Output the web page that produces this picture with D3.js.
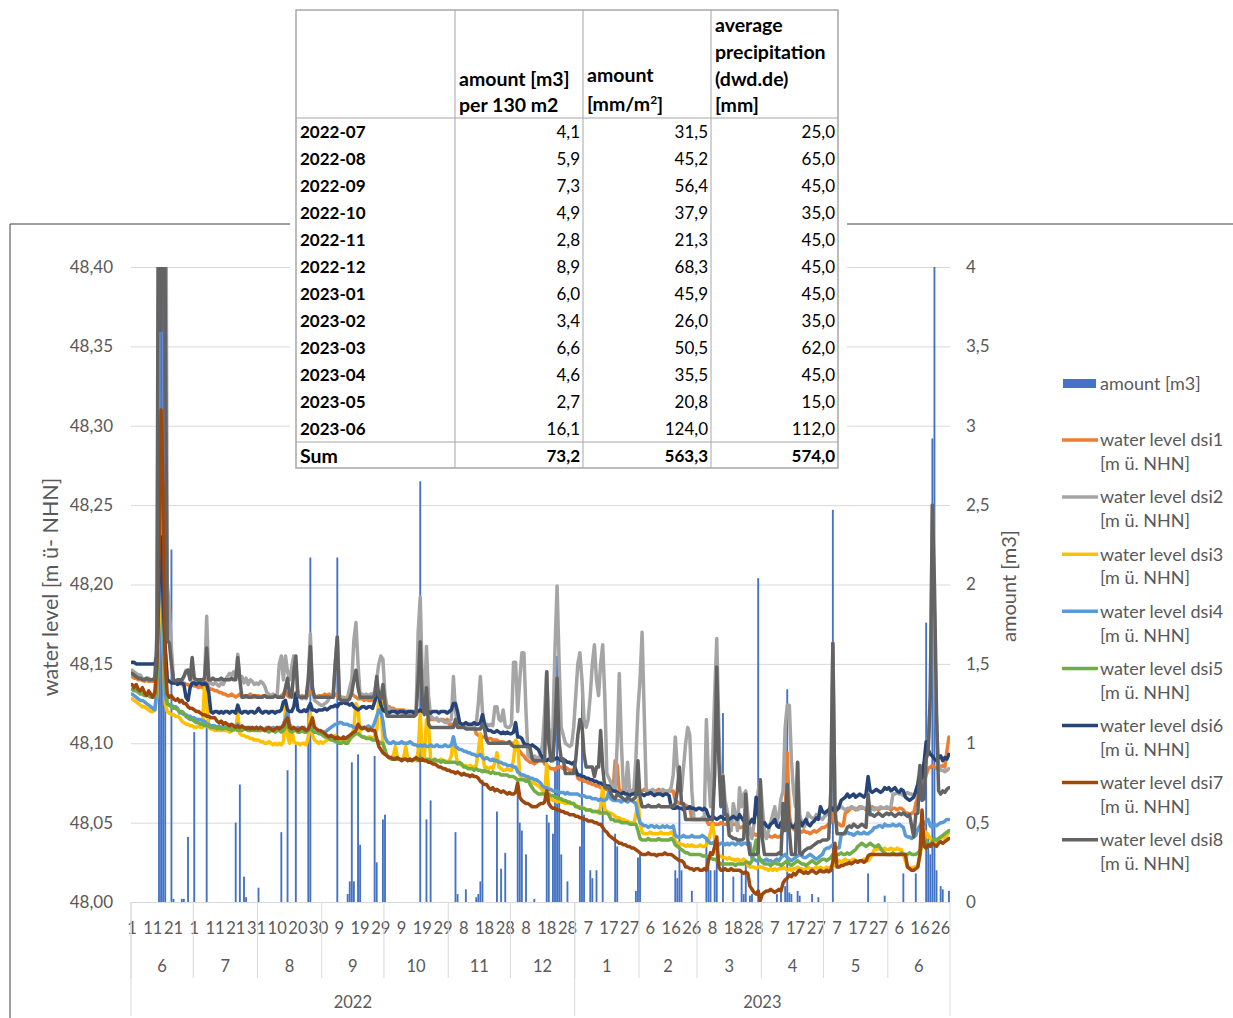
<!DOCTYPE html>
<html>
<head>
<meta charset="utf-8">
<script src="https://cdn.jsdelivr.net/npm/d3@7"></script>
<style>
  body { margin: 0; background: #fff; }
  svg { display: block; }
  text { font-family: Lato, "Open Sans", sans-serif; }
</style>
</head>
<body>
<svg id="chart" width="1233" height="1018"></svg>
<script>
// Daily categories run from the first to the last logged day
const firstDay = "2022-06-01";
const lastDay = "2023-06-30";

// Water levels per sensor, in mm above 48,000 m ü. NHN, one value per day
const dsi1 = [
  142,141,141,140,140,140,139,140,139,139,139,140,150,220,260,200,160,140,139,139,138,139,138,138,137,138,137,137,136,137,
  136,136,135,136,135,137,140,135,134,134,133,133,132,132,131,131,130,130,131,130,129,130,131,130,130,129,130,131,130,129,130,
  130,129,130,130,129,130,130,129,130,130,129,130,131,133,130,129,130,130,132,130,129,130,129,130,130,133,131,130,129,130,130,
  130,131,130,131,130,129,131,130,129,128,129,128,129,130,131,130,129,128,128,128,127,128,127,127,127,127,128,129,128,126,
  124,123,123,122,122,121,121,121,121,121,120,120,120,120,120,120,120,119,120,120,120,116,115,115,115,115,114,115,115,114,115,
  112,112,112,112,111,112,112,111,112,112,111,112,111,106,105,105,104,104,103,103,103,102,102,102,101,101,101,100,100,100,
  100,100,98,96,95,93,92,90,89,88,88,87,88,89,90,90,87,86,85,84,84,83,85,85,85,84,85,84,83,83,83,
  83,78,77,77,76,76,75,75,74,74,73,73,72,72,71,71,70,70,70,89,86,70,70,70,69,70,70,70,71,70,70,
  70,70,71,70,70,69,70,70,70,71,70,70,69,70,70,70,70,64,63,62,62,61,61,60,60,52,52,52,
  52,52,52,52,52,49,49,50,49,49,49,50,49,49,49,50,49,49,49,49,47,47,48,47,47,46,43,43,42,43,42,
  42,42,41,42,41,41,42,41,41,42,45,55,94,55,47,46,45,46,45,44,45,44,44,43,44,45,44,45,46,47,
  47,48,49,50,60,51,50,49,48,48,56,57,58,60,59,58,59,60,59,59,58,59,59,60,59,59,58,59,59,59,59,
  59,58,59,59,58,59,59,58,56,56,55,56,56,62,66,70,72,75,80,84,85,86,85,84,86,85,86,85,95,104
];
const dsi2 = [
  146,145,144,143,143,141,140,140,141,140,140,141,170,450,600,450,600,200,185,160,140,139,138,138,139,142,146,146,140,150,
  139,139,140,139,138,139,180,139,138,137,138,137,136,138,137,140,142,144,143,145,141,156,140,142,138,141,137,140,139,137,138,
  137,139,138,136,132,131,130,131,130,130,150,155,140,155,145,140,148,155,150,130,129,128,129,128,140,169,135,127,126,125,124,
  124,125,126,128,130,131,150,167,130,129,128,128,129,135,140,165,176,150,130,131,130,131,130,131,131,132,140,150,155,153,
  130,123,122,121,121,120,119,120,119,118,118,119,118,117,118,120,170,192,140,125,161,130,117,116,115,116,114,115,114,113,113,
  114,115,142,120,112,112,111,112,111,110,111,110,111,112,125,142,120,112,112,111,112,111,123,123,115,114,121,111,110,110,
  112,151,151,120,140,157,157,120,92,91,91,92,91,91,92,100,120,145,110,95,110,160,199,150,110,105,100,99,98,99,110,
  130,150,157,140,115,110,115,130,150,162,140,130,150,162,130,81,78,75,72,70,100,144,100,71,70,88,70,69,70,90,121,
  140,170,120,70,69,70,71,70,68,69,70,71,70,69,70,72,80,104,85,75,70,85,100,110,105,70,53,52,
  52,52,53,52,115,80,60,90,130,166,110,72,80,64,58,50,45,62,55,45,72,60,68,70,55,45,40,50,60,70,77,
  60,45,40,45,50,55,60,50,55,65,70,110,124,124,90,70,60,88,55,50,47,50,56,54,53,52,55,54,53,52,
  54,55,56,58,163,62,59,59,60,59,58,59,59,60,59,59,58,59,60,59,59,59,60,59,58,59,59,60,59,59,60,
  59,60,68,68,69,68,68,67,68,69,68,68,67,68,75,86,78,70,90,100,130,250,180,110,85,83,83,82,83,84
];
const dsi3 = [
  128,127,126,125,124,123,123,122,121,120,120,121,130,180,210,160,125,120,119,118,118,117,117,116,114,113,112,112,111,111,
  110,110,111,110,110,138,125,110,109,109,108,109,108,108,109,108,108,107,108,108,109,119,106,105,105,104,104,103,103,102,102,
  102,101,101,100,100,101,100,99,100,99,100,99,101,123,105,100,110,101,100,100,99,100,100,99,104,119,105,102,101,100,101,
  100,101,102,103,104,104,105,103,102,101,102,101,101,102,104,110,125,122,105,104,104,103,104,104,103,104,108,129,127,100,
  94,92,91,91,92,98,91,90,90,91,98,90,90,89,90,89,95,119,92,91,115,112,90,89,89,89,89,90,89,89,88,
  89,92,104,95,87,87,86,86,86,85,86,85,85,86,95,106,94,85,85,84,85,84,88,94,85,84,83,83,84,83,
  83,90,102,100,80,78,77,77,76,76,75,75,74,73,72,70,68,87,68,65,64,64,63,64,63,63,62,63,62,62,62,
  61,60,60,59,59,58,58,58,57,57,57,56,60,73,58,57,56,56,55,54,53,53,52,52,51,51,50,50,49,55,64,
  50,44,43,43,43,44,43,43,43,43,44,43,43,43,43,44,43,38,37,37,36,36,35,36,35,36,35,35,
  35,36,35,35,36,38,44,49,40,30,29,29,28,28,27,28,27,27,26,27,26,26,27,26,23,22,22,22,21,22,22,
  22,21,21,20,21,20,21,20,21,21,22,21,20,21,20,21,21,22,21,21,20,21,22,21,21,21,22,21,22,21,
  21,22,21,22,22,24,26,26,25,26,27,26,26,26,27,26,25,26,26,27,26,26,28,30,33,33,34,33,33,34,33,
  33,34,33,33,34,33,33,30,26,22,22,21,22,22,23,30,35,38,44,42,40,38,37,38,39,40,41,40,42,44
];
const dsi4 = [
  131,130,129,128,127,127,126,125,124,123,122,121,135,200,230,170,130,125,124,124,123,123,122,119,119,118,118,117,117,116,
  116,115,115,115,114,114,112,112,111,111,111,110,111,110,110,110,111,110,110,110,111,112,110,110,109,110,109,110,109,109,110,
  109,110,109,109,110,109,109,110,109,109,110,109,112,115,120,112,110,109,109,110,109,109,110,108,108,112,108,107,107,107,106,
  107,107,108,109,110,111,112,112,113,113,112,112,112,111,111,110,110,111,110,110,110,110,111,110,110,113,117,121,120,114,
  104,101,100,100,101,100,100,100,101,100,100,100,101,100,99,99,98,99,98,99,98,98,99,98,98,99,98,98,98,99,98,
  98,99,104,98,97,96,96,95,95,94,94,93,93,92,92,93,91,90,91,90,89,90,89,89,88,88,87,87,86,86,
  86,85,85,82,81,80,80,79,79,78,78,77,77,76,75,73,72,72,71,71,70,70,70,69,69,69,68,69,68,68,68,
  68,68,67,67,67,66,66,66,65,65,65,64,65,64,64,65,70,65,64,64,64,64,63,64,64,63,64,64,63,62,55,
  50,49,48,48,47,48,48,47,48,47,47,48,47,48,47,47,48,42,41,41,41,42,41,41,41,42,41,41,
  41,41,42,41,40,38,37,37,38,37,36,37,37,36,37,36,37,37,36,37,37,36,37,37,36,37,28,27,26,26,27,
  26,26,27,26,26,25,26,27,26,28,29,30,28,27,26,27,28,29,30,29,28,28,29,30,29,28,27,28,29,30,
  33,34,34,35,36,34,34,34,42,43,43,44,43,43,42,43,44,43,43,44,43,43,44,45,47,47,48,48,47,49,48,
  48,48,49,48,48,49,48,47,42,41,41,40,41,42,46,48,50,49,51,52,48,47,49,48,49,50,50,51,52,52
];
const dsi5 = [
  134,133,133,132,131,131,130,131,130,129,129,130,140,230,300,200,140,125,124,123,122,122,121,120,120,119,117,116,115,115,
  114,113,113,112,112,111,111,111,110,110,110,109,110,109,109,110,109,109,108,109,109,108,109,108,109,109,108,108,109,108,108,
  108,108,109,108,108,107,108,108,107,108,108,107,108,110,112,108,107,108,108,107,107,108,107,107,108,110,108,107,107,106,106,
  105,104,104,103,102,102,101,101,100,100,101,100,100,103,104,105,106,106,105,104,104,103,103,103,102,102,102,101,100,100,
  96,92,91,90,90,91,90,90,89,90,90,89,90,89,90,90,89,91,90,89,90,90,89,89,90,89,89,88,89,88,88,
  88,88,88,88,87,88,87,85,85,84,84,84,83,84,83,83,82,83,82,82,81,82,81,81,81,80,80,80,80,79,
  79,79,78,77,77,77,77,76,77,74,72,70,69,68,68,68,68,68,68,67,67,66,66,65,65,64,64,63,63,62,62,
  60,60,59,59,59,58,58,58,57,57,57,57,56,56,56,56,55,52,52,51,51,51,50,50,50,50,49,49,49,49,45,
  40,39,39,39,40,39,39,39,39,40,39,39,39,39,39,40,39,36,35,34,33,32,31,31,30,30,30,30,
  30,30,29,29,29,28,28,27,27,26,25,24,24,24,24,24,24,24,23,24,24,24,24,25,25,24,26,33,39,30,26,
  25,24,24,24,23,24,25,24,24,23,24,25,26,24,23,24,25,26,25,24,24,23,24,25,26,25,24,25,26,27,
  27,26,27,28,30,29,30,30,31,30,30,31,30,31,32,33,35,36,37,36,35,36,37,36,35,35,36,34,32,31,30,
  30,30,31,30,30,30,31,30,30,30,31,30,30,30,31,32,36,37,38,37,36,38,40,39,40,41,42,43,44,45
];
const dsi6 = [
  151,151,150,150,150,150,150,150,150,150,150,150,155,200,230,190,160,140,139,138,138,138,137,138,138,137,129,127,135,138,
  138,137,138,138,137,138,137,132,120,119,120,120,119,120,119,120,120,119,120,120,119,124,120,119,120,120,119,120,120,119,120,
  122,120,119,120,120,119,120,120,119,120,120,121,126,127,121,120,120,123,131,121,120,120,121,120,122,125,121,121,120,121,121,
  121,122,121,122,123,123,124,123,125,125,126,125,125,124,125,123,122,121,122,123,123,122,123,123,122,126,131,130,124,121,
  120,120,119,120,120,120,119,120,120,120,119,120,120,120,119,120,120,121,120,125,120,120,119,120,120,120,119,120,120,120,119,
  120,121,125,125,120,113,112,112,113,112,112,112,113,112,112,113,118,112,109,108,108,107,107,108,107,106,107,106,107,106,
  106,107,113,104,104,103,100,99,99,98,99,98,97,96,93,91,90,89,90,89,90,90,91,90,89,90,89,88,88,87,88,
  83,80,80,79,79,78,78,77,77,76,76,75,75,74,74,73,73,71,70,70,69,68,68,69,68,68,67,68,68,69,68,
  68,68,67,68,68,69,68,67,68,68,68,67,68,68,67,60,59,59,60,59,59,58,59,59,60,59,59,58,
  59,59,58,59,58,54,53,54,53,52,53,54,53,52,53,52,53,54,53,52,55,53,51,50,49,50,52,50,66,55,50,
  49,50,48,47,49,50,52,48,47,50,51,49,53,50,48,47,49,50,51,48,50,52,49,48,50,51,53,52,60,57,
  56,57,58,60,58,59,58,60,64,65,66,68,66,67,68,66,67,68,67,66,68,79,70,69,70,71,70,69,70,72,71,
  72,70,71,72,70,69,71,70,66,65,64,65,66,70,74,81,78,88,101,96,93,92,90,89,91,92,89,91,90,93
];
const dsi7 = [
  137,135,137,134,133,135,132,130,133,131,129,132,150,220,310,260,150,131,129,130,128,127,128,126,127,125,125,123,122,122,
  121,120,120,119,118,118,117,117,116,116,116,114,113,114,112,113,112,111,112,111,110,111,110,111,110,109,110,109,110,109,110,
  109,110,109,108,109,110,109,108,109,110,109,110,111,114,116,110,109,110,109,108,109,110,109,108,109,112,116,110,109,108,108,
  107,106,105,104,105,104,103,104,103,103,104,103,104,105,106,107,108,112,110,109,110,109,108,109,108,108,103,98,96,94,
  93,92,91,91,90,90,91,90,89,90,90,89,90,89,90,91,90,89,90,89,89,88,88,87,87,86,85,85,84,84,83,
  83,82,82,81,82,81,80,81,80,80,79,80,79,79,78,76,75,74,74,72,71,72,70,71,70,69,70,69,68,69,
  68,68,69,75,66,64,63,62,62,61,60,60,60,61,62,62,63,70,62,60,59,59,58,58,57,57,56,56,55,55,55,
  54,54,53,53,52,52,51,51,51,50,50,49,49,47,45,44,42,41,40,39,38,37,37,36,36,35,35,34,34,33,32,
  31,30,30,30,31,30,30,30,29,30,30,30,31,30,30,30,29,28,27,26,26,25,22,22,21,21,20,21,
  21,20,20,21,20,26,31,30,35,41,22,20,20,21,20,20,21,20,20,20,20,19,18,19,18,10,8,6,5,7,1,
  5,6,7,7,8,7,6,7,8,7,12,14,15,17,16,18,17,19,20,19,18,19,18,19,20,19,18,19,20,19,
  19,20,19,20,25,37,22,22,23,23,24,24,25,24,25,26,25,26,26,25,26,29,30,30,30,30,30,30,30,30,30,
  30,30,30,30,30,30,30,30,30,22,21,20,20,21,22,30,58,35,34,36,35,37,36,35,37,38,37,38,39,40
];
const dsi8 = [
  144,143,142,141,141,140,140,141,140,140,140,141,160,600,360,600,380,165,163,150,140,139,140,140,140,142,145,146,140,154,
  141,140,140,140,140,141,160,140,140,141,140,140,140,141,140,140,140,140,141,140,140,154,140,129,129,130,129,129,129,130,129,
  129,129,129,130,129,129,129,129,130,129,129,129,129,135,141,130,129,145,155,130,129,129,129,129,140,161,135,129,129,129,129,
  129,129,129,129,129,129,150,167,128,127,127,127,127,128,132,140,146,135,129,129,129,129,129,129,129,130,142,130,128,137,
  125,117,117,117,117,117,117,117,117,117,117,117,117,117,117,118,140,164,125,118,135,112,110,110,110,110,110,110,110,110,110,
  110,110,110,115,110,110,110,110,109,109,109,109,109,109,109,109,112,109,102,100,100,100,100,100,100,100,100,100,100,101,
  99,98,98,98,98,98,98,98,98,97,90,89,89,89,89,89,89,145,100,89,89,110,141,100,90,90,81,81,81,81,81,
  90,105,115,112,93,85,85,85,85,79,85,85,108,85,72,72,72,68,66,65,68,67,66,65,64,66,65,64,65,66,89,
  66,60,60,60,61,60,60,60,60,61,60,60,60,60,60,61,60,62,70,85,62,62,52,52,52,52,52,52,
  52,52,52,52,52,52,52,52,80,148,90,60,79,55,55,42,41,40,40,39,39,39,40,68,39,30,30,30,30,31,77,
  40,30,30,30,30,30,30,30,31,30,62,45,74,45,30,30,30,88,31,30,32,33,34,34,35,36,37,38,38,39,
  39,39,40,70,163,60,43,43,43,43,44,47,48,47,49,48,47,48,49,48,47,68,55,55,54,55,56,55,54,55,56,
  55,56,55,54,55,56,55,56,55,54,55,48,41,55,56,86,64,65,90,95,130,250,200,120,70,68,70,69,71,72
];

// Collected rain per day in m³ (days without an entry collected nothing)
const rainDays = [
  "2022-06-14","2022-06-15","2022-06-16","2022-06-17","2022-06-20","2022-06-21","2022-06-25","2022-06-26","2022-06-28",
  "2022-07-01","2022-07-07","2022-07-21","2022-07-23","2022-07-25","2022-07-26",
  "2022-08-01","2022-08-12","2022-08-15","2022-08-19","2022-08-25","2022-08-26",
  "2022-09-08","2022-09-13","2022-09-14","2022-09-15","2022-09-16","2022-09-18","2022-09-19","2022-09-26","2022-09-27","2022-09-30",
  "2022-10-01","2022-10-18","2022-10-21","2022-10-23",
  "2022-11-04","2022-11-05","2022-11-09","2022-11-14","2022-11-15","2022-11-16","2022-11-17","2022-11-24","2022-11-26","2022-11-28",
  "2022-12-04","2022-12-05","2022-12-06","2022-12-08","2022-12-12","2022-12-18","2022-12-19","2022-12-21","2022-12-22","2022-12-23","2022-12-24","2022-12-25","2022-12-28",
  "2023-01-03","2023-01-04","2023-01-05","2023-01-08","2023-01-09","2023-01-11","2023-01-14","2023-01-20","2023-01-21","2023-01-30","2023-01-31",
  "2023-02-01","2023-02-18","2023-02-19","2023-02-20","2023-02-21","2023-02-26",
  "2023-03-05","2023-03-06","2023-03-07","2023-03-09","2023-03-10","2023-03-13","2023-03-18","2023-03-22","2023-03-23","2023-03-24","2023-03-26","2023-03-27","2023-03-30","2023-03-31",
  "2023-04-08","2023-04-10","2023-04-12","2023-04-13","2023-04-14","2023-04-15","2023-04-18","2023-04-19","2023-04-25","2023-04-28",
  "2023-05-05","2023-05-22","2023-05-30",
  "2023-06-08","2023-06-14","2023-06-19","2023-06-20","2023-06-21","2023-06-22","2023-06-23","2023-06-24","2023-06-26","2023-06-27","2023-06-30"
];
const rainAmounts = [
  4.0,4.0,4.0,4.0,2.22,0.02,0.02,0.02,0.41,
  1.07,1.1,0.5,0.74,0.16,0.03,
  0.09,0.44,0.83,0.99,1.24,2.17,
  2.17,0.05,0.13,0.88,0.13,0.93,0.36,0.92,0.25,0.52,
  0.55,2.65,0.52,0.64,
  0.44,0.05,0.08,0.03,0.05,0.13,0.77,0.57,0.21,0.31,
  0.69,0.5,0.45,0.3,0.02,0.55,0.5,0.43,0.85,1.55,0.9,0.3,0.13,
  0.35,1.4,0.55,0.2,0.15,0.2,0.75,0.43,0.35,0.07,0.28,
  0.3,0.2,0.15,0.58,0.2,0.07,
  0.41,0.28,0.2,0.2,0.41,1.19,0.16,0.18,0.05,0.25,0.04,0.05,2.04,0.03,
  0.05,0.08,0.1,1.34,0.06,0.05,0.07,0.04,0.05,0.03,
  2.47,0.18,0.04,
  0.18,0.18,1.76,0.4,0.3,2.92,4.0,0.2,0.1,0.08,0.07
];

// Axis ticks
const levelTicks = [48.00, 48.05, 48.10, 48.15, 48.20, 48.25, 48.30, 48.35, 48.40];
const amountTicks = [0, 0.5, 1, 1.5, 2, 2.5, 3, 3.5, 4];

// Monthly summary table
const tableMonths = ["2022-07","2022-08","2022-09","2022-10","2022-11","2022-12","2023-01","2023-02","2023-03","2023-04","2023-05","2023-06"];
const tableAmountM3 = [4.1, 5.9, 7.3, 4.9, 2.8, 8.9, 6.0, 3.4, 6.6, 4.6, 2.7, 16.1];
const tableAmountMm = [31.5, 45.2, 56.4, 37.9, 21.3, 68.3, 45.9, 26.0, 50.5, 35.5, 20.8, 124.0];
const tablePrecip = [25.0, 65.0, 45.0, 35.0, 45.0, 45.0, 45.0, 35.0, 62.0, 45.0, 15.0, 112.0];
const tableSums = [73.2, 563.3, 574.0];

const series = [
  { name: "water level dsi1", values: dsi1, color: "#ED7D31" },
  { name: "water level dsi2", values: dsi2, color: "#A5A5A5" },
  { name: "water level dsi3", values: dsi3, color: "#FFC000" },
  { name: "water level dsi4", values: dsi4, color: "#5B9BD5" },
  { name: "water level dsi5", values: dsi5, color: "#70AD47" },
  { name: "water level dsi6", values: dsi6, color: "#264478" },
  { name: "water level dsi7", values: dsi7, color: "#9E480E" },
  { name: "water level dsi8", values: dsi8, color: "#636363" }
];
const barColor = "#4472C4";
const axisTextColor = "#595959";
const gridColor = "#d9d9d9";

const de = d3.formatLocale({ decimal: ",", thousands: ".", grouping: [3], currency: ["", " €"] });
const fmtLevel = de.format(".2f");
const fmtAmount = de.format("~f");
const fmtTable = de.format(".1f");

const svg = d3.select("#chart");
const plot = { left: 131, right: 950, top: 267, bottom: 902 };

const parseDay = d3.utcParse("%Y-%m-%d");
const fmtDay = d3.utcFormat("%Y-%m-%d");
const days = d3.utcDay.range(parseDay(firstDay), d3.utcDay.offset(parseDay(lastDay), 1)).map(fmtDay);

const x = d3.scaleBand().domain(days).range([plot.left, plot.right]).paddingInner(0.1).paddingOuter(0.05);
const cx = d => x(d) + x.bandwidth() / 2;
const edge = d => x(d) - x.step() * x.paddingInner() / 2;
const yL = d3.scaleLinear().domain([48.0, 48.4]).range([plot.bottom, plot.top]);
const yR = d3.scaleLinear().domain([0, 4]).range([plot.bottom, plot.top]);

// chart area frame
svg.append("path").attr("d", "M10,1018V224H1233").attr("fill", "none").attr("stroke", "#404040").attr("stroke-width", 1);

svg.append("defs").append("clipPath").attr("id", "plotClip")
  .append("rect").attr("x", plot.left).attr("y", plot.top)
  .attr("width", plot.right - plot.left).attr("height", plot.bottom - plot.top);

// horizontal gridlines
svg.append("g").attr("transform", `translate(${plot.left},0)`)
  .call(d3.axisLeft(yL).tickValues(levelTicks).tickFormat("").tickSize(-(plot.right - plot.left)))
  .call(g => g.select(".domain").remove())
  .call(g => g.selectAll("line").attr("stroke", gridColor));

// left axis labels
svg.append("g").attr("transform", `translate(${plot.left},0)`)
  .call(d3.axisLeft(yL).tickValues(levelTicks).tickFormat(fmtLevel).tickSize(0).tickPadding(18))
  .call(g => g.select(".domain").remove())
  .call(g => g.selectAll("text").attr("fill", axisTextColor).attr("font-size", 17).style("font-family", "Lato"));

// right axis labels
svg.append("g").attr("transform", `translate(${plot.right},0)`)
  .call(d3.axisRight(yR).tickValues(amountTicks).tickFormat(fmtAmount).tickSize(0).tickPadding(16))
  .call(g => g.select(".domain").remove())
  .call(g => g.selectAll("text").attr("fill", axisTextColor).attr("font-size", 17).style("font-family", "Lato"));

// day-of-month labels every 10th day
svg.append("g").attr("transform", `translate(0,${plot.bottom})`)
  .call(d3.axisBottom(x).tickValues(days.filter((d, i) => i % 10 === 0)).tickFormat(d => +d.slice(8)).tickSize(0).tickSizeOuter(0).tickPadding(20))
  .call(g => g.select(".domain").attr("stroke", gridColor))
  .call(g => g.selectAll("text").attr("fill", axisTextColor).attr("font-size", 16.5).style("font-family", "Lato"));

// month and year groupings
const months = d3.groups(days, d => d.slice(0, 7)).map(([key, ds]) => ({ key, first: ds[0], last: ds[ds.length - 1] }));
const years = d3.groups(days, d => d.slice(0, 4)).map(([key, ds]) => ({ key, first: ds[0], last: ds[ds.length - 1] }));
const rightEdge = d => edge(d) + x.step();

const sep = svg.append("g").attr("stroke", gridColor);
sep.selectAll("line.m").data(months).join("line").attr("class", "m")
  .attr("x1", d => edge(d.first)).attr("x2", d => edge(d.first))
  .attr("y1", plot.bottom).attr("y2", 978);
sep.selectAll("line.y").data(years).join("line").attr("class", "y")
  .attr("x1", d => edge(d.first)).attr("x2", d => edge(d.first))
  .attr("y1", plot.bottom).attr("y2", 1016);
sep.append("line").attr("x1", plot.right).attr("x2", plot.right).attr("y1", plot.bottom).attr("y2", 1016);

svg.append("g").selectAll("text").data(months).join("text")
  .attr("x", d => (edge(d.first) + rightEdge(d.last)) / 2).attr("y", 966).attr("dy", "0.35em")
  .attr("text-anchor", "middle").attr("font-size", 16.5).attr("fill", axisTextColor)
  .text(d => +d.key.slice(5));
svg.append("g").selectAll("text").data(years).join("text")
  .attr("x", d => (edge(d.first) + rightEdge(d.last)) / 2).attr("y", 1002).attr("dy", "0.35em")
  .attr("text-anchor", "middle").attr("font-size", 16.5).attr("fill", axisTextColor)
  .text(d => d.key);

// axis titles
svg.append("text").attr("transform", "translate(50,587) rotate(-90)").attr("text-anchor", "middle")
  .attr("dy", "0.35em").attr("font-size", 21.5).attr("fill", axisTextColor).text("water level [m ü- NHN]");
svg.append("text").attr("transform", "translate(1009,586) rotate(-90)").attr("text-anchor", "middle")
  .attr("dy", "0.35em").attr("font-size", 20).attr("fill", axisTextColor).text("amount [m3]");

const plotArea = svg.append("g").attr("clip-path", "url(#plotClip)");

// rain bars (secondary axis)
const rain = rainDays.map((d, i) => ({ day: d, value: rainAmounts[i] }));
plotArea.append("g").selectAll("rect").data(rain).join("rect")
  .attr("x", d => x(d.day)).attr("width", x.bandwidth())
  .attr("y", d => yR(d.value)).attr("height", d => yR(0) - yR(d.value))
  .attr("fill", barColor);

// water level lines
const line = d3.line().x((d, i) => cx(days[i])).y(d => yL(48 + d / 1000));
plotArea.append("g").selectAll("path").data(series).join("path")
  .attr("d", d => line(d.values))
  .attr("fill", "none").attr("stroke", d => d.color).attr("stroke-width", 3.5)
  .attr("stroke-linejoin", "round").attr("stroke-linecap", "round");

// legend
const legend = svg.append("g").attr("font-size", 18).attr("fill", axisTextColor);
legend.append("rect").attr("x", 1063).attr("y", 379).attr("width", 33).attr("height", 9).attr("fill", barColor);
legend.append("text").attr("x", 1100).attr("y", 384).attr("dy", "0.35em").text("amount [m3]");
const legendRows = legend.selectAll("g.row").data(series).join("g").attr("class", "row")
  .attr("transform", (d, i) => `translate(0,${440 + i * 57.1})`);
legendRows.append("line").attr("x1", 1062).attr("x2", 1098).attr("stroke", d => d.color).attr("stroke-width", 3.5);
legendRows.append("text").attr("x", 1100).attr("dy", "0.35em").text(d => d.name);
legendRows.append("text").attr("x", 1100).attr("y", 24).attr("dy", "0.35em").text("[m ü. NHN]");

// summary table
const tbl = svg.append("g");
tbl.append("rect").attr("x", 290).attr("y", 0).attr("width", 557).attr("height", 473).attr("fill", "#fff");
const colX = [296, 455, 583, 711, 838];
const tTop = 10, headBottom = 118, rowH = 27, sumTop = headBottom + rowH * tableMonths.length, tBottom = sumTop + 26;
const tableLine = "#a6a6a6";
tbl.append("rect").attr("x", colX[0]).attr("y", tTop).attr("width", colX[4] - colX[0]).attr("height", tBottom - tTop)
  .attr("fill", "none").attr("stroke", tableLine).attr("stroke-width", 1.5);
tbl.selectAll("line.v").data(colX.slice(1, 4)).join("line").attr("class", "v")
  .attr("x1", d => d).attr("x2", d => d).attr("y1", tTop).attr("y2", tBottom).attr("stroke", tableLine);
tbl.selectAll("line.h").data([headBottom, sumTop]).join("line").attr("class", "h")
  .attr("x1", colX[0]).attr("x2", colX[4]).attr("y1", d => d).attr("y2", d => d).attr("stroke", tableLine);

const head = tbl.append("g").attr("font-size", 19.5).attr("font-weight", "bold").attr("fill", "#000");
const headCells = [
  { x: colX[1] + 4, lines: [["amount [m3]", 79], ["per 130 m2", 105]] },
  { x: colX[2] + 4, lines: [["amount", 75]] },
  { x: colX[3] + 4, lines: [["average", 25], ["precipitation", 52], ["(dwd.de)", 79], ["[mm]", 105]] }
];
headCells.forEach(c => c.lines.forEach(([t, y]) => {
  head.append("text").attr("x", c.x).attr("y", y).attr("dy", "0.35em").text(t);
}));
const mmHead = head.append("text").attr("x", colX[2] + 4).attr("y", 104).attr("dy", "0.35em");
mmHead.append("tspan").text("[mm/m");
mmHead.append("tspan").attr("font-size", 12).attr("dy", "-0.6em").text("2");
mmHead.append("tspan").attr("dy", "0.45em").text("]");

const rows = tableMonths.map((m, i) => [m, tableAmountM3[i], tableAmountMm[i], tablePrecip[i]]);
rows.push(["Sum", ...tableSums]);
const body = tbl.append("g").attr("font-size", 17).attr("fill", "#000");
rows.forEach((r, i) => {
  const y = headBottom + rowH * i + rowH / 2 + 1;
  const last = i === rows.length - 1;
  body.append("text").attr("x", colX[0] + 4).attr("y", y).attr("dy", "0.35em").attr("font-weight", "bold")
    .attr("font-size", last ? 19.5 : 17).text(r[0]);
  r.slice(1).forEach((v, j) => {
    body.append("text").attr("x", colX[j + 2] - 3).attr("y", y).attr("dy", "0.35em")
      .attr("text-anchor", "end").attr("font-weight", last ? "bold" : "normal").text(fmtTable(v));
  });
});
</script>
</body>
</html>
